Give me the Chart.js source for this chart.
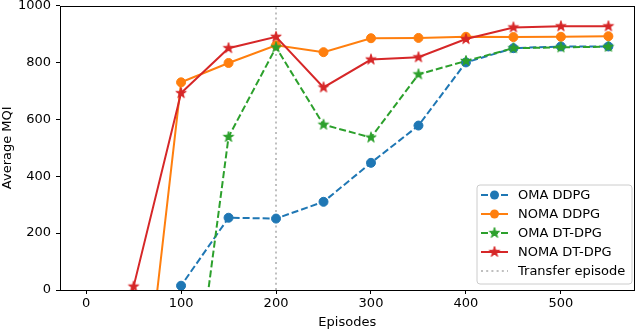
<!DOCTYPE html>
<html><head><meta charset="utf-8">
<script src="https://cdn.jsdelivr.net/npm/chart.js@4"></script>
<style>html,body{margin:0;padding:0;background:#fff}#wrap{width:640px;height:330px;position:relative}</style>
</head><body><div id="wrap"><canvas id="c" width="640" height="330"></canvas></div>
<script>
// ---- data ----
const episodes   = [0, 50, 100, 150, 200, 250, 300, 350, 400, 450, 500, 550];
const omaDDPG    = [-900, -700, 15, 254, 251, 310, 447, 578, 800, 850, 856, 856];
const nomaDDPG   = [-900, -730, 730, 798, 860, 836, 885, 886, 890, 889, 890, 892];
const omaDTDPG   = [-900, -850, -727, 538, 853, 581, 536, 758, 805, 850, 853, 855];
const nomaDTDPG  = [-900, 12, 692, 850, 890, 712, 810, 818, 882, 923, 927, 927];
const transferEpisode = 200;
const xTicks = [0, 100, 200, 300, 400, 500];
const yTicks = [0, 200, 400, 600, 800, 1000];
const seriesNames = ['OMA DDPG', 'NOMA DDPG', 'OMA DT-DPG', 'NOMA DT-DPG', 'Transfer episode'];

const FONT = "'DejaVu Sans', sans-serif";
const C = {blue:'#1f77b4', orange:'#ff7f0e', green:'#2ca02c', red:'#d62728'};

function makeStar(color){
  const cv = document.createElement('canvas');
  cv.width = 14; cv.height = 14;
  const g = cv.getContext('2d');
  const R = 5.5, r = R*0.382, cx = 7, cy = 7;
  g.beginPath();
  for (let i = 0; i < 10; i++) {
    const rad = i % 2 === 0 ? R : r;
    const a = -Math.PI/2 + i*Math.PI/5;
    const x = cx + rad*Math.cos(a), y = cy + rad*Math.sin(a);
    if (i === 0) g.moveTo(x, y); else g.lineTo(x, y);
  }
  g.closePath();
  g.fillStyle = color; g.fill();
  g.strokeStyle = color; g.lineWidth = 1; g.lineJoin = 'miter'; g.stroke();
  return cv;
}
const starGreen = makeStar(C.green), starRed = makeStar(C.red);

function pts(ys){ return episodes.map((x,i)=>({x, y: ys[i]})); }
const clip = {left:0, top:5, right:0, bottom:1};

const styles = [
  {color:C.blue,   dash:[7,3], point:'circle'},
  {color:C.orange, dash:[],    point:'circle'},
  {color:C.green,  dash:[7,3], point:starGreen},
  {color:C.red,    dash:[],    point:starRed},
];
const seriesData = [omaDDPG, nomaDDPG, omaDTDPG, nomaDTDPG];

const datasets = seriesData.map((ys, i) => ({
  label: seriesNames[i],
  data: pts(ys),
  borderColor: styles[i].color,
  backgroundColor: styles[i].color,
  borderWidth: 2,
  borderDash: styles[i].dash,
  pointStyle: styles[i].point,
  pointRadius: 4.5,
  pointBorderWidth: 1,
  pointBorderColor: styles[i].color,
  pointBackgroundColor: styles[i].color,
  tension: 0,
  clip: clip,
  order: 4 - i
}));
datasets.push({
  label: seriesNames[4],
  data: [{x: transferEpisode, y: 0}, {x: transferEpisode, y: 1000}],
  borderColor: 'rgba(128,128,128,0.5)',
  borderWidth: 2,
  borderDash: [2, 3.2],
  pointRadius: 0,
  clip: clip,
  order: 10
});

const framePlugin = {
  id: 'frameLegend',
  afterDatasetsDraw(chart){
    const {ctx, chartArea:a} = chart;
    ctx.save();
    ctx.strokeStyle = '#000'; ctx.lineWidth = 1;
    ctx.strokeRect(Math.round(a.left)+0.5, Math.round(a.top)+0.5, Math.round(a.right-a.left)-1, Math.round(a.bottom-a.top)-1);
    // legend
    const bx = 477, by = 185, bw = 155, bh = 99, rr = 3;
    ctx.beginPath();
    ctx.moveTo(bx+rr, by); ctx.lineTo(bx+bw-rr, by); ctx.quadraticCurveTo(bx+bw, by, bx+bw, by+rr);
    ctx.lineTo(bx+bw, by+bh-rr); ctx.quadraticCurveTo(bx+bw, by+bh, bx+bw-rr, by+bh);
    ctx.lineTo(bx+rr, by+bh); ctx.quadraticCurveTo(bx, by+bh, bx, by+bh-rr);
    ctx.lineTo(bx, by+rr); ctx.quadraticCurveTo(bx, by, bx+rr, by);
    ctx.closePath();
    ctx.fillStyle = 'rgba(255,255,255,0.8)'; ctx.fill();
    ctx.strokeStyle = '#cccccc'; ctx.lineWidth = 1; ctx.stroke();
    const x1 = 481, x2 = 508, xm = (x1+x2)/2;
    ctx.font = '13px ' + FONT; ctx.textBaseline = 'middle'; ctx.textAlign = 'left'; ctx.fillStyle = '#000';
    for (let i = 0; i < 5; i++) {
      const y = 195 + i*19;
      const ds = chart.data.datasets[i];
      ctx.save();
      ctx.strokeStyle = ds.borderColor; ctx.lineWidth = 2;
      ctx.setLineDash(i === 4 ? [2,3.2] : (styles[i].dash.length ? [7,3] : []));
      ctx.beginPath(); ctx.moveTo(x1, y); ctx.lineTo(x2, y); ctx.stroke();
      ctx.restore();
      if (i < 4) {
        if (styles[i].point === 'circle') {
          ctx.beginPath(); ctx.arc(xm, y, 4.5, 0, Math.PI*2);
          ctx.fillStyle = styles[i].color; ctx.fill();
        } else {
          ctx.drawImage(styles[i].point, xm-7, y-7);
        }
      }
      ctx.fillStyle = '#000';
      ctx.fillText(seriesNames[i], 518, y+0.5);
    }
    ctx.restore();
  }
};

new Chart(document.getElementById('c'), {
  type: 'line',
  data: {datasets},
  options: {
    responsive: false,
    animation: false,
    devicePixelRatio: 1,
    layout: {padding: {top: 5, right: 2, left: 0, bottom: 0}},
    plugins: {legend: {display: false}, tooltip: {enabled: false}},
    scales: {
      x: {
        type: 'linear', min: -27.5, max: 577.5,
        afterBuildTicks: s => { s.ticks = xTicks.map(v => ({value: v})); },
        afterFit: s => { s.height = 40; s.paddingLeft = 0; s.paddingRight = 0; },
        grid: {display: true, drawOnChartArea: false, drawTicks: true, tickLength: 4, color: '#000', lineWidth: 1},
        border: {display: false},
        ticks: {font: {family: FONT, size: 13}, color: '#000', padding: 2, maxRotation: 0, autoSkip: false, callback: v => String(v)},
        title: {display: true, text: 'Episodes', font: {family: FONT, size: 13}, color: '#000', padding: 0}
      },
      y: {
        type: 'linear', min: 0, max: 1000,
        afterBuildTicks: s => { s.ticks = yTicks.map(v => ({value: v})); },
        afterFit: s => { s.width = 60; s.paddingTop = 0; s.paddingBottom = 0; },
        grid: {display: true, drawOnChartArea: false, drawTicks: true, tickLength: 4, color: '#000', lineWidth: 1},
        border: {display: false},
        ticks: {font: {family: FONT, size: 13}, color: '#000', padding: 5, autoSkip: false, callback: v => String(v)},
        title: {display: true, text: 'Average MQI', font: {family: FONT, size: 13}, color: '#000', padding: 0}
      }
    }
  },
  plugins: [framePlugin]
});
</script>
</body></html>
